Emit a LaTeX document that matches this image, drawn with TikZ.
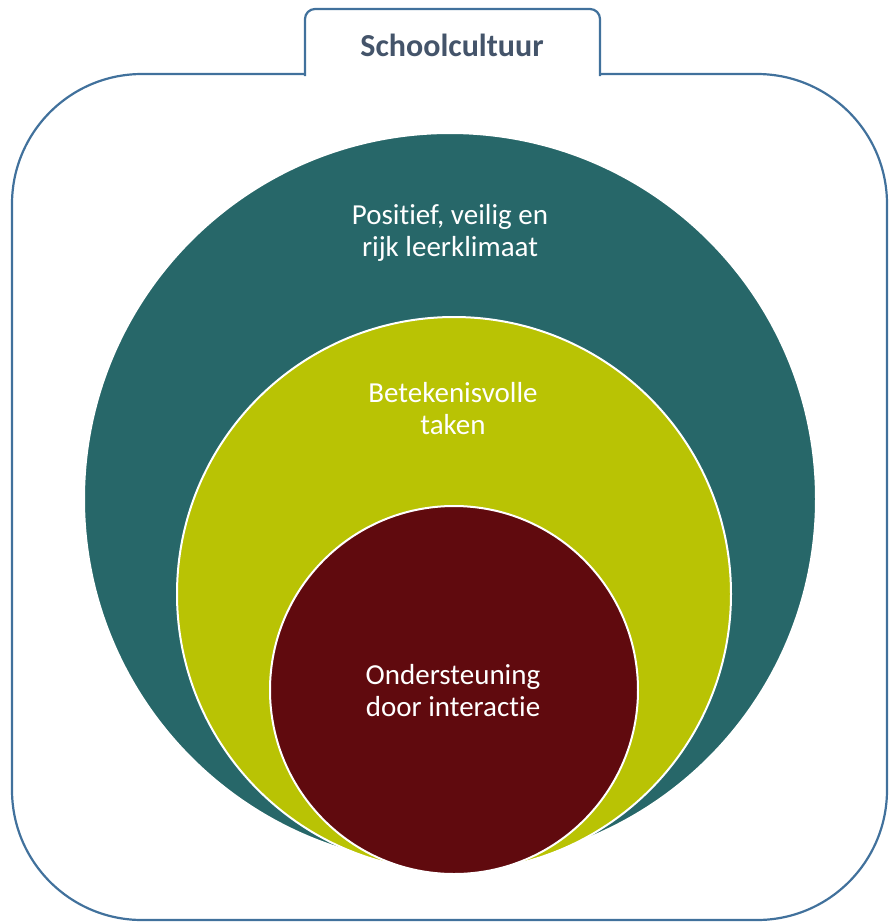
\documentclass[tikz,border=0pt]{standalone}
\usepackage{fontspec}
\setmainfont[Ligatures=NoCommon]{Carlito}
\definecolor{frameblue}{HTML}{41719C}
\definecolor{tealc}{HTML}{276769}
\definecolor{limec}{HTML}{B9C304}
\definecolor{redc}{HTML}{600A0E}
\definecolor{titlec}{HTML}{44546A}
\tikzset{
  ring/.style={circle, draw=white, line width=2pt, inner sep=0pt},
  lbl/.style={text=white, font=\fontsize{29}{32}\selectfont, align=center},
  frame/.style={draw=frameblue, line width=2.2pt},
}
\begin{document}
\begin{tikzpicture}[x=1pt,y=-1pt]
\useasboundingbox (0,0) rectangle (889,922);
\draw[frame, rounded corners=130pt] (12,74) rectangle (887,920);
\draw[frame, fill=white, rounded corners=10pt] (305,76) -- (305,9) -- (600,9) -- (600,76);
\node[text=titlec, font=\bfseries\fontsize{32}{36}\selectfont] (title) at (452,45) {Schoolcultuur};
\node[ring, fill=tealc, minimum size=732pt] (outer) at (450,499) {};
\node[ring, fill=limec, minimum size=554pt] (mid) at (454,594) {};
\node[ring, fill=redc, minimum size=368pt] (inner) at (454,690) {};
\node[lbl] (t1) at (450,233) {Positief, veilig en\\rijk leerklimaat};
\node[lbl] (t2) at (453,409) {Betekenisvolle\\taken};
\node[lbl] (t3) at (453,691) {Ondersteuning\\door interactie};
\end{tikzpicture}
\end{document}
